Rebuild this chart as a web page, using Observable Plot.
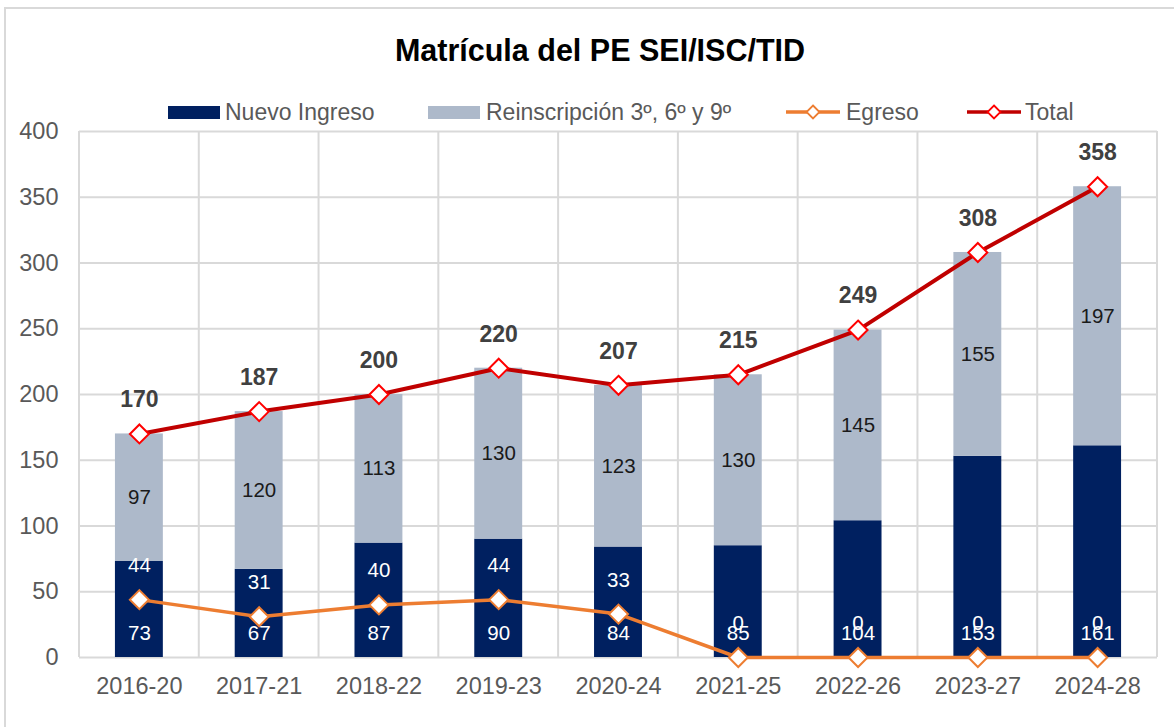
<!DOCTYPE html>
<html>
<head>
<meta charset="utf-8">
<script src="https://cdn.jsdelivr.net/npm/d3@7"></script>
<script src="https://cdn.jsdelivr.net/npm/@observablehq/plot@0.6"></script>
<style>
  html, body { margin: 0; padding: 0; background: #fff; }
  #wrap { position: relative; width: 1174px; height: 727px; overflow: hidden; font-family: "Liberation Sans", Arial, sans-serif; }
  #frame { position: absolute; left: 4px; top: 7px; width: 1300px; height: 900px; border-left: 2px solid #d9d9d9; border-top: 2px solid #d9d9d9; }
  #title { position: absolute; left: 5px; width: 1190px; top: 30px; height: 40px; line-height: 40px; text-align: center; font-weight: bold; font-size: 30.5px; color: #000; }
  .lg-text { position: absolute; top: 99px; height: 26px; line-height: 26px; font-size: 23px; color: #595959; white-space: nowrap; }
  .lg-sw { position: absolute; }
  #chart { position: absolute; left: 0; top: 120px; }
</style>
</head>
<body>
<div id="wrap">
  <div id="frame"></div>
  <div id="title">Matrícula del PE SEI/ISC/TID</div>
  <div id="legend"></div>
  <div id="chart"></div>
</div>
<script>
// ---- Data ----
const categories = ["2016-20","2017-21","2018-22","2019-23","2020-24","2021-25","2022-26","2023-27","2024-28"];
const nuevoIngreso = [73, 67, 87, 90, 84, 85, 104, 153, 161];
const reinscripcion = [97, 120, 113, 130, 123, 130, 145, 155, 197];
const egreso = [44, 31, 40, 44, 33, 0, 0, 0, 0];
const total = [170, 187, 200, 220, 207, 215, 249, 308, 358];
const yTicks = [0, 50, 100, 150, 200, 250, 300, 350, 400];
const seriesNames = ["Nuevo Ingreso", "Reinscripción 3º, 6º y 9º", "Egreso", "Total"];
const seriesColors = ["#002060", "#adb9ca", "#ed7d31", "#c00000"];

// ---- Legend ----
const legend = document.getElementById("legend");
const legendLayout = [
  {type: "rect", sw: 168, tx: 225},
  {type: "rect", sw: 428, tx: 486},
  {type: "line", sw: 786, tx: 846, marker: "#ed7d31"},
  {type: "line", sw: 967, tx: 1025, marker: "#ff0000"}
];
seriesNames.forEach((name, i) => {
  const L = legendLayout[i];
  if (L.type === "rect") {
    const d = document.createElement("div");
    d.className = "lg-sw";
    d.style.cssText = `left:${L.sw}px;top:106px;width:52px;height:13px;background:${seriesColors[i]}`;
    legend.appendChild(d);
  } else {
    const s = d3.create("svg").attr("class", "lg-sw").attr("width", 54).attr("height", 20)
      .style("left", L.sw + "px").style("top", "102px");
    s.append("line").attr("x1", 0).attr("x2", 54).attr("y1", 10).attr("y2", 10)
      .attr("stroke", seriesColors[i]).attr("stroke-width", 3.5);
    s.append("path").attr("d", "M27,3.5L33.5,10L27,16.5L20.5,10Z")
      .attr("fill", "#fff").attr("stroke", L.marker).attr("stroke-width", 1.8);
    legend.appendChild(s.node());
  }
  const t = document.createElement("div");
  t.className = "lg-text";
  t.style.left = L.tx + "px";
  t.textContent = name;
  legend.appendChild(t);
});

// ---- Chart ----
const rows = [];
categories.forEach((c, i) => rows.push({cat: c, series: seriesNames[0], value: nuevoIngreso[i]}));
categories.forEach((c, i) => rows.push({cat: c, series: seriesNames[1], value: reinscripcion[i]}));

const diamond = {
  draw(ctx, size) {
    const r = Math.sqrt(size / Math.PI);
    ctx.moveTo(0, -r); ctx.lineTo(r, 0); ctx.lineTo(0, r); ctx.lineTo(-r, 0); ctx.closePath();
  }
};

function verticalGrid(index, scales, values, dims) {
  const x = scales.x;
  const bw = typeof x.bandwidth === "function" ? x.bandwidth() : (x.bandwidth || 0);
  const xs = categories.map(c => x(c) + bw / 2);
  const step = xs[1] - xs[0];
  const bounds = xs.map(v => v - step / 2).concat([xs[xs.length - 1] + step / 2]);
  const g = d3.create("svg:g");
  g.selectAll("line").data(bounds).join("line")
    .attr("x1", d => d).attr("x2", d => d)
    .attr("y1", dims.marginTop).attr("y2", dims.height - dims.marginBottom)
    .attr("stroke", "#d9d9d9").attr("stroke-width", 2);
  return g.node();
}

const idx = categories.map((c, i) => i);
const fontLbl = 20.5;

const chart = Plot.plot({
  width: 1174,
  height: 607,
  marginTop: 11,
  marginBottom: 70,
  marginLeft: 79,
  marginRight: 17,
  style: {fontFamily: "'Liberation Sans', Arial, sans-serif", fontSize: "23.5px", color: "#595959", background: "transparent", overflow: "visible"},
  x: {domain: categories, paddingInner: 0.6, paddingOuter: 0.3, round: false, label: null, tickSize: 0, tickPadding: 20},
  y: {domain: [0, 400], ticks: yTicks, label: null, tickSize: 0, tickPadding: 21},
  color: {domain: seriesNames.slice(0, 2), range: seriesColors.slice(0, 2)},
  marks: [
    Plot.ruleY(yTicks, {stroke: "#d9d9d9", strokeWidth: 2}),
    verticalGrid,
    Plot.barY(rows, {x: "cat", y: "value", fill: "series"}),
    Plot.line(idx, {x: i => categories[i], y: i => egreso[i], stroke: seriesColors[2], strokeWidth: 3.5, strokeLinejoin: "round"}),
    Plot.line(idx, {x: i => categories[i], y: i => total[i], stroke: seriesColors[3], strokeWidth: 4, strokeLinejoin: "round"}),
    Plot.dot(idx, {x: i => categories[i], y: i => egreso[i], symbol: diamond, r: 9.5, fill: "#fff", stroke: "#ed7d31", strokeWidth: 2}),
    Plot.dot(idx, {x: i => categories[i], y: i => total[i], symbol: diamond, r: 9.5, fill: "#fff", stroke: "#ff0000", strokeWidth: 2}),
    Plot.text(idx, {x: i => categories[i], y: i => 0, text: i => String(nuevoIngreso[i]), dy: -24, fill: "#fff", fontSize: fontLbl}),
    Plot.text(idx, {x: i => categories[i], y: i => nuevoIngreso[i] + reinscripcion[i] / 2, text: i => String(reinscripcion[i]), fill: "#1a1a1a", fontSize: fontLbl}),
    Plot.text(idx, {x: i => categories[i], y: i => egreso[i], text: i => String(egreso[i]), dy: -34, fill: "#fff", fontSize: fontLbl}),
    Plot.text(idx, {x: i => categories[i], y: i => total[i], text: i => String(total[i]), dy: -34, fill: "#404040", fontSize: 23, fontWeight: "bold"})
  ]
});
document.getElementById("chart").appendChild(chart);
</script>
</body>
</html>
